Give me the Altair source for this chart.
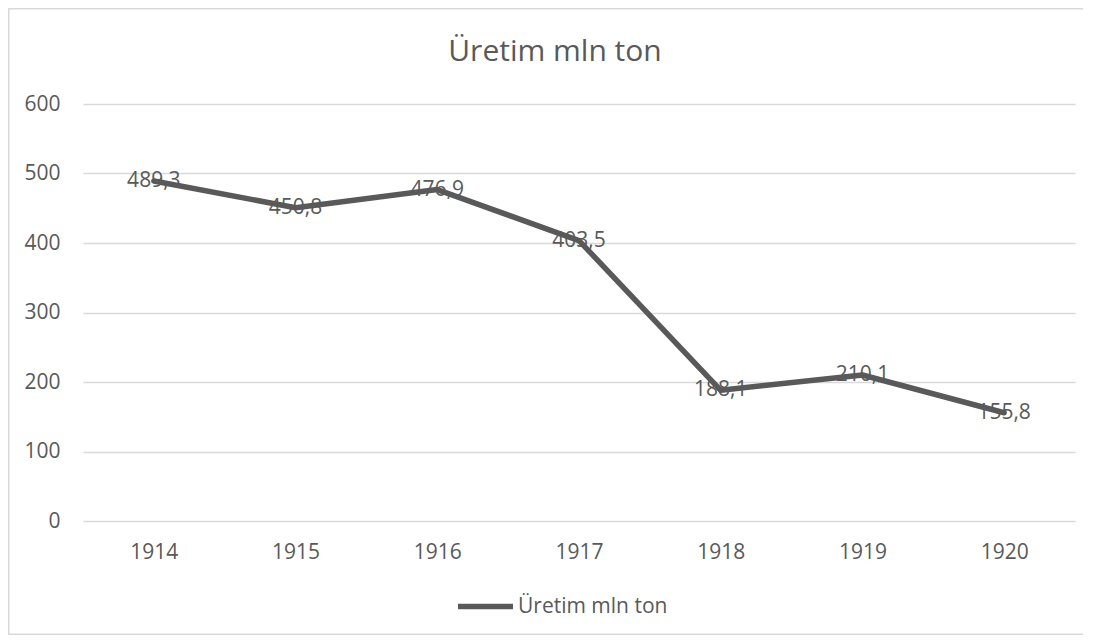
import altair as alt
import pandas as pd

years = ["1914", "1915", "1916", "1917", "1918", "1919", "1920"]
values = [489.3, 450.8, 476.9, 403.5, 188.1, 210.1, 155.8]
series = "Üretim mln ton"
y_ticks = [0, 100, 200, 300, 400, 500, 600]

df = pd.DataFrame({"year": years, "value": values, "series": [series] * len(years)})

FONT = "Open Sans"
TXT = "#595959"
GRID = "#d9d9d9"

base = alt.Chart(df)
one = alt.Chart(pd.DataFrame({"d": [0]}))

frame_top = one.mark_rect(fill=GRID, strokeWidth=0).encode(
    x=alt.value(-75), x2=alt.value(1100), y=alt.value(-96), y2=alt.value(-94.5))
frame_left = one.mark_rect(fill=GRID, strokeWidth=0).encode(
    x=alt.value(-75), x2=alt.value(-73.5), y=alt.value(-96), y2=alt.value(531))
frame_bottom = one.mark_rect(fill=GRID, strokeWidth=0).encode(
    x=alt.value(-75), x2=alt.value(1100), y=alt.value(529.5), y2=alt.value(531))

title = one.mark_text(fontSize=30, font=FONT, color=TXT, baseline="middle", align="center").encode(
    x=alt.value(472), y=alt.value(-52), text=alt.value(series))

line = base.mark_line(strokeWidth=5.5, strokeCap="round", strokeJoin="round").encode(
    x=alt.X("year:O", sort=years, scale=alt.Scale(padding=0.5),
            axis=alt.Axis(title=None, labelAngle=0, ticks=False, domain=False, grid=False,
                          labelPadding=20, labelFontSize=21, labelColor=TXT, labelFont=FONT)),
    y=alt.Y("value:Q", scale=alt.Scale(domain=[0, 600], nice=False),
            axis=alt.Axis(title=None, values=y_ticks, ticks=False, domain=False,
                          gridColor=GRID, gridWidth=1.5, labelPadding=23,
                          labelFontSize=21, labelColor=TXT, labelFont=FONT)),
    color=alt.Color("series:N", scale=alt.Scale(domain=[series], range=[TXT]),
                    legend=alt.Legend(title=None, orient="none", legendX=372, legendY=472,
                                      symbolType="stroke", symbolSize=3025, symbolStrokeWidth=5.5,
                                      labelFontSize=21, labelColor=TXT, labelFont=FONT,
                                      labelOffset=2)),
)

labels = base.mark_text(fontSize=21, color=TXT, font=FONT, baseline="middle", align="center").transform_calculate(
    lbl="replace(format(datum.value, '.1f'), '.', ',')"
).encode(
    x=alt.X("year:O", sort=years),
    y=alt.Y("value:Q"),
    text="lbl:N",
)

chart = alt.layer(frame_top, frame_left, frame_bottom, title, line, labels).properties(
    width=992, height=417,
    background="white",
    autosize=alt.AutoSizeParams(type="none"),
    padding={"left": 75, "top": 96, "right": 8, "bottom": 115},
).configure_view(stroke="transparent")

chart.save("out.html", embed_options={"renderer": "svg", "actions": False})
